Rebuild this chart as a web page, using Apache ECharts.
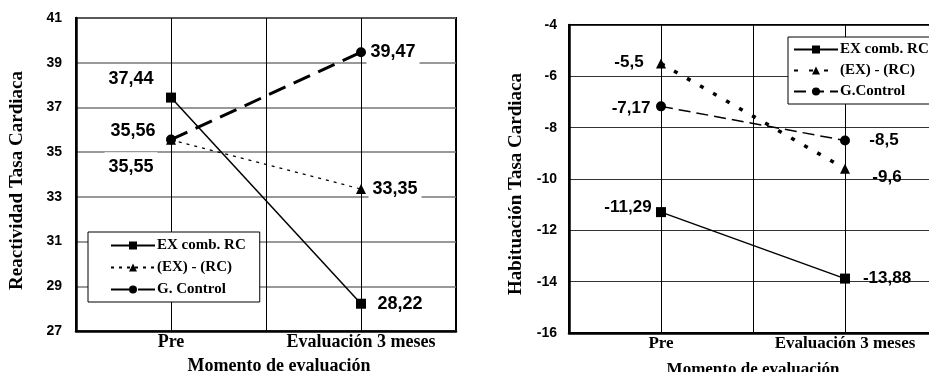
<!DOCTYPE html>
<html>
<head>
<meta charset="utf-8">
<script src="https://cdn.jsdelivr.net/npm/echarts@6/dist/echarts.min.js"></script>
<style>
html,body{margin:0;padding:0;background:#fff;}
#c1{position:absolute;left:0;top:0;width:465px;height:372px;}
#c2{position:absolute;left:465px;top:0;width:464px;height:372px;}
</style>
</head>
<body>
<div id="c1"></div>
<div id="c2"></div>
<script>
// ---- data ----
const categories = ['Pre', 'Evaluación 3 meses'];
const seriesNamesLeft = ['EX comb. RC', '(EX) - (RC)', 'G. Control'];
const seriesNamesRight = ['EX comb. RC', '(EX) - (RC)', 'G.Control'];
const leftExComb = [37.44, 28.22];
const leftExRc = [35.55, 33.35];
const leftControl = [35.56, 39.47];
const rightExComb = [-11.29, -13.88];
const rightExRc = [-5.5, -9.6];
const rightControl = [-7.17, -8.5];
const leftYTicks = [27, 29, 31, 33, 35, 37, 39, 41];
const rightYTicks = [-16, -14, -12, -10, -8, -6, -4];

const serif = '"Liberation Serif", "Times New Roman", serif';
const sans = '"Liberation Sans", Arial, sans-serif';
const fmt = v => String(v).replace('.', ',');

function mkData(vals, offsets) {
  return vals.map((v, i) => ({
    value: [i + 1, v],
    label: { offset: offsets[i] }
  }));
}

function xAxisCfg(fontSize) {
  return {
    type: 'value', min: 0.5, max: 2.5, interval: 0.5,
    axisLine: { show: true, lineStyle: { color: '#000', width: 2.5 } },
    axisTick: { show: false },
    splitLine: { show: true, lineStyle: { color: '#000', width: 1 } },
    axisLabel: {
      margin: 2, color: '#000', fontFamily: serif, fontWeight: 'bold', fontSize: fontSize,
      formatter: v => (Math.abs(v - 1) < 1e-9 ? categories[0] : (Math.abs(v - 2) < 1e-9 ? categories[1] : ''))
    },
    name: 'Momento de evaluación', nameLocation: 'middle',
    nameTextStyle: { color: '#000', fontFamily: serif, fontWeight: 'bold', fontSize: fontSize }
  };
}

function yAxisCfg(ticks, name, margin, nameGap, gridColor, namePad) {
  return {
    type: 'value', min: ticks[0], max: ticks[ticks.length - 1], interval: ticks[1] - ticks[0],
    axisLine: { show: true, lineStyle: { color: '#000', width: 2.5 } },
    axisTick: { show: false },
    splitLine: { show: true, lineStyle: { color: gridColor, width: 1.5 } },
    axisLabel: { margin: margin, color: '#000', fontFamily: sans, fontWeight: 'bold', fontSize: 14 },
    name: name, nameLocation: 'middle', nameGap: nameGap,
    nameTextStyle: { color: '#000', fontFamily: serif, fontWeight: 'bold', fontSize: 19, padding: [0, namePad, 0, 0] }
  };
}

function lineSeries(name, vals, offsets, symbol, symbolSize, lineStyle, labelStyle) {
  return {
    name: name, type: 'line', data: mkData(vals, offsets),
    symbol: symbol, symbolSize: symbolSize, showSymbol: true,
    itemStyle: { color: '#000' },
    lineStyle: Object.assign({ color: '#000' }, lineStyle),
    label: Object.assign({
      show: true, position: 'inside', color: '#000', fontFamily: sans, fontWeight: 'bold', fontSize: 18,
      formatter: p => fmt(p.value[1])
    }, labelStyle),
    animation: false, z: 3
  };
}

// ---- left chart ----
const boxLabel = { backgroundColor: '#fff', padding: [6, 4, 5, 4] };
const chart1 = echarts.init(document.getElementById('c1'), null, { renderer: 'canvas' });
const xa1 = xAxisCfg(18);
xa1.nameGap = 26;
xa1.nameTextStyle.padding = [0, 0, 0, 26];
chart1.setOption({
  backgroundColor: '#fff',
  animation: false,
  grid: { left: 76, top: 18, width: 380, height: 313, show: true, borderColor: '#000', borderWidth: 2,
          backgroundColor: 'transparent', containLabel: false, outerBoundsMode: 'none' },
  xAxis: xa1,
  yAxis: yAxisCfg(leftYTicks, 'Reactividad Tasa Cardiaca', 14, 49, '#777', 12),
  legend: {
    orient: 'vertical', left: 88, top: 232,
    data: seriesNamesLeft,
    itemWidth: 44, itemHeight: 10, itemGap: 7,
    padding: [6, 14, 5, 22],
    backgroundColor: '#fff', borderColor: '#000', borderWidth: 1,
    textStyle: { color: '#000', fontFamily: serif, fontWeight: 'bold', fontSize: 15, padding: [0, 0, 0, -3] }
  },
  series: [
    lineSeries(seriesNamesLeft[0], leftExComb, [[-40, -19], [39, 0]], 'rect', 10, { width: 1.5, type: 'solid' }, boxLabel),
    lineSeries(seriesNamesLeft[1], leftExRc, [[-40, 27], [34, 0]], 'triangle', 10, { width: 1.2, type: [3, 5] }, boxLabel),
    lineSeries(seriesNamesLeft[2], leftControl, [[-38, -9], [32, 0]], 'circle', 10, { width: 3, type: [18, 9] }, boxLabel)
  ]
});

// ---- right chart ----
const chart2 = echarts.init(document.getElementById('c2'), null, { renderer: 'canvas' });
const xa2 = xAxisCfg(17);
xa2.nameGap = 28;
const ya2 = yAxisCfg(rightYTicks, 'Habituación Tasa Cardiaca', 12, 40, '#333', 10);
ya2.splitLine.lineStyle.width = 1;
chart2.setOption({
  backgroundColor: '#fff',
  animation: false,
  grid: { left: 104, top: 25, width: 368, height: 308, show: true, borderColor: '#000', borderWidth: 2,
          backgroundColor: 'transparent', containLabel: false, outerBoundsMode: 'none' },
  xAxis: xa2,
  yAxis: ya2,
  legend: {
    orient: 'vertical', left: 323, top: 37,
    data: seriesNamesRight,
    itemWidth: 44, itemHeight: 10, itemGap: 6,
    padding: [5, 2, 5, 5],
    backgroundColor: '#fff', borderColor: '#000', borderWidth: 1,
    textStyle: { color: '#000', fontFamily: serif, fontWeight: 'bold', fontSize: 15, padding: [0, 0, 0, -3] }
  },
  series: [
    lineSeries(seriesNamesRight[0], rightExComb, [[-33, -5], [42, 0]], 'rect', 10, { width: 1.5, type: 'solid' }, { fontSize: 17 }),
    lineSeries(seriesNamesRight[1], rightExRc, [[-32, -1], [42, 9]], 'triangle', 10, { width: 3.5, type: [4, 11] }, { fontSize: 17 }),
    lineSeries(seriesNamesRight[2], rightControl, [[-30, 2], [39, 0]], 'circle', 10, { width: 1.5, type: [12, 6] }, { fontSize: 17 })
  ]
});
</script>
</body>
</html>
